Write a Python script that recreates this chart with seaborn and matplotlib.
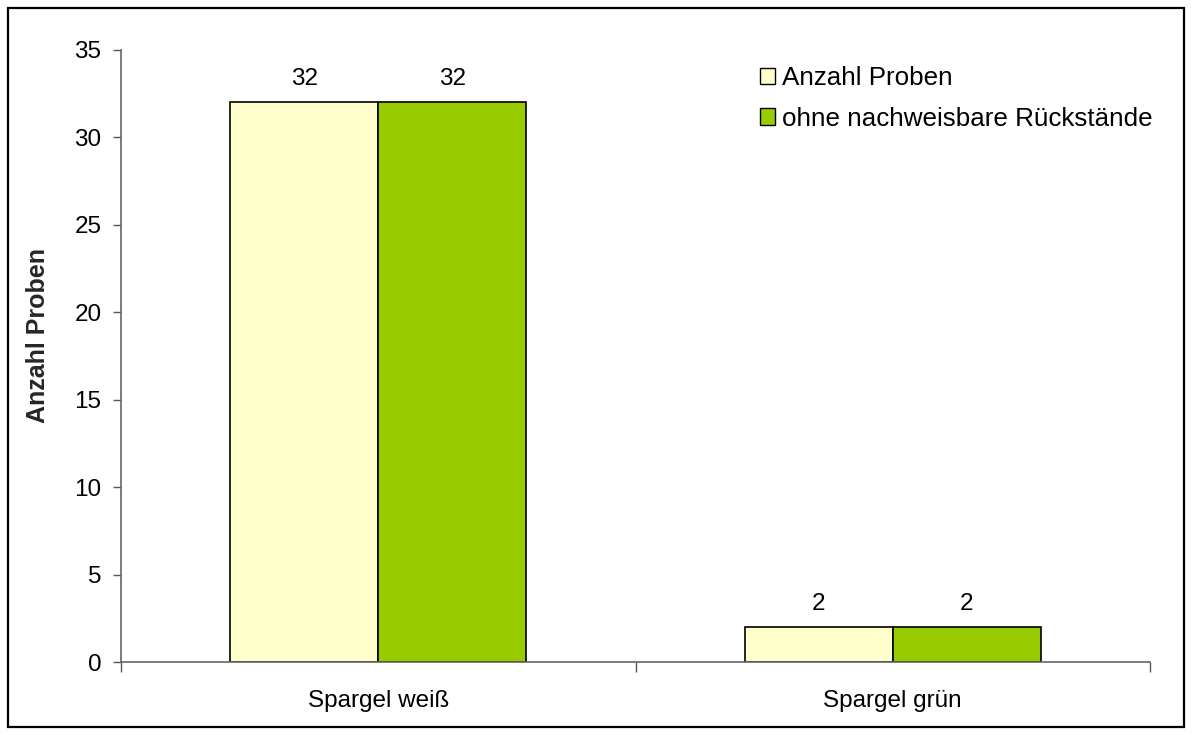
import pandas as pd
import matplotlib.pyplot as plt
import seaborn as sns
from matplotlib.patches import Rectangle

# daten
sorten = ["Spargel weiß", "Spargel grün"]
anzahl_proben = [32, 2]
ohne_rueckstaende = [32, 2]
reihen = ["Anzahl Proben", "ohne nachweisbare Rückstände"]
farben = ["#FFFFCC", "#99CC00"]
y_ticks = [0, 5, 10, 15, 20, 25, 30, 35]

df = pd.DataFrame({
    "sorte": sorten * 2,
    "anzahl": anzahl_proben + ohne_rueckstaende,
    "reihe": [reihen[0]] * len(sorten) + [reihen[1]] * len(sorten),
})

sns.set_style("white")
plt.rcParams["font.family"] = ["Liberation Sans", "DejaVu Sans"]
plt.rcParams["text.color"] = "black"
plt.rcParams["xtick.color"] = "black"
plt.rcParams["ytick.color"] = "black"

fig = plt.figure(figsize=(11.92, 7.35), dpi=100)
ax = fig.add_axes([0.1015, 0.0993, 0.8633, 0.8327])

sns.barplot(data=df, x="sorte", y="anzahl", hue="reihe", palette=farben,
            saturation=1, width=0.575, edgecolor="black", linewidth=1.2, ax=ax)

for container in ax.containers:
    ax.bar_label(container, fmt="%d", padding=9, fontsize=17.5)

ax.set_xlim(-0.5, 1.5)
ax.set_ylim(0, 35)
ax.set_yticks(y_ticks)
ax.tick_params(axis="y", labelsize=17.5, length=6, width=1, color="#555555",
               labelcolor="black", direction="out", left=True, pad=8)
ax.set_xticks(range(len(sorten)))
ax.set_xticklabels(sorten, fontsize=17.5)
ax.tick_params(axis="x", which="major", length=0, pad=20, labelcolor="black")
ax.set_xticks([-0.5, 0.5, 1.5], minor=True)
ax.tick_params(axis="x", which="minor", length=7, width=1, color="#555555",
               direction="out", bottom=True)
ax.set_xlabel("")
ax.set_ylabel("Anzahl Proben", fontsize=18, fontweight="bold")
ax.yaxis.set_label_coords(-0.069, 0.533)

for s in ["top", "right"]:
    ax.spines[s].set_visible(False)
for s in ["left", "bottom"]:
    ax.spines[s].set_color("#666666")
    ax.spines[s].set_linewidth(1.2)

leg = ax.legend(loc="upper left", bbox_to_anchor=(0.598, 1.012), frameon=False,
                fontsize=18.7, handlelength=0.6, handleheight=0.6,
                handletextpad=0.25, labelspacing=0.65)
for h in leg.legend_handles:
    h.set_edgecolor("black")
    h.set_linewidth(1)

# rahmen um die ganze grafik
fig.patches.append(Rectangle((0.007, 0.011), 0.986, 0.978, transform=fig.transFigure,
                             fill=False, edgecolor="black", linewidth=1.6))

fig.savefig("out.png", dpi=100)
